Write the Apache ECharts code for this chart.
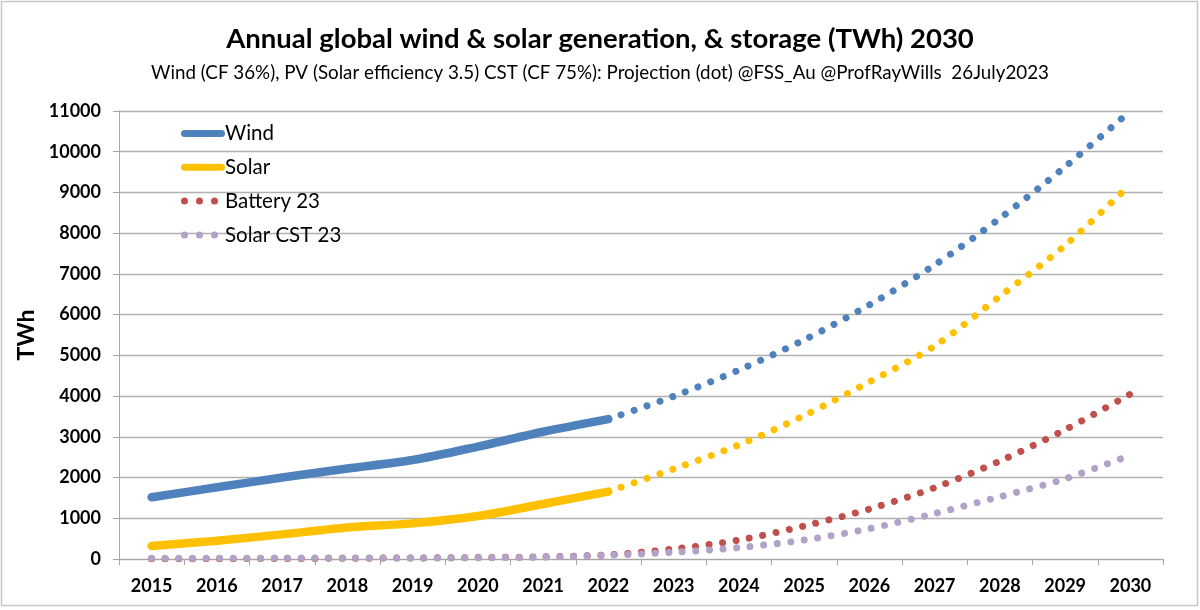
<!DOCTYPE html>
<html>
<head>
<meta charset="utf-8">
<script src="https://cdn.jsdelivr.net/npm/echarts@6/dist/echarts.min.js"></script>
<style>
    html, body { margin: 0; padding: 0; background: #fff; }
    #main { width: 1200px; height: 610px; }
</style>
</head>
<body>
<div id="main"></div>
<script>
// 数据 (TWh)
var years = ['2015', '2016', '2017', '2018', '2019', '2020', '2021', '2022',
             '2023', '2024', '2025', '2026', '2027', '2028', '2029', '2030'];
var yTicks = [0, 1000, 2000, 3000, 4000, 5000, 6000, 7000, 8000, 9000, 10000, 11000];

// actual 2015-2022
var windActual = [1515, 1760, 2000, 2220, 2430, 2760, 3125, 3435];
var solarActual = [320, 450, 605, 775, 875, 1055, 1350, 1655];
// projection 2022-2030
var windProjection = [3435, 3995, 4640, 5380, 6240, 7220, 8365, 9630, 11000];
var solarProjection = [1655, 2210, 2800, 3520, 4350, 5230, 6450, 7700, 9200];
// storage, 2015-2030
var battery = [5, 8, 12, 18, 25, 35, 55, 100, 245, 466, 810, 1227, 1750, 2406, 3175, 4050];
var solarCst = [20, 20, 22, 24, 26, 30, 45, 90, 165, 280, 465, 745, 1115, 1530, 1970, 2550];

var FONT = 'Lato, "Liberation Sans", sans-serif';

// put the projection values at the right years
function padFrom(startYear, values) {
    var out = years.map(function () { return null; });
    var i0 = years.indexOf(startYear);
    values.forEach(function (v, i) { out[i0 + i] = v; });
    return out;
}

// legend icons, all 44 x 7 so they scale the same
var barIcon = 'path://M3.5,0 L40.5,0 A3.5,3.5 0 0 1 40.5,7 L3.5,7 A3.5,3.5 0 0 1 3.5,0 Z';
var dotIcon = 'path://M0,3.5 A3.5,3.5 0 1 0 7,3.5 A3.5,3.5 0 1 0 0,3.5 Z ' +
    'M15,3.5 A3.5,3.5 0 1 0 22,3.5 A3.5,3.5 0 1 0 15,3.5 Z ' +
    'M30,3.5 A3.5,3.5 0 1 0 37,3.5 A3.5,3.5 0 1 0 30,3.5 Z ' +
    'M43.98,3.5 A0.01,0.01 0 1 0 44,3.5 A0.01,0.01 0 1 0 43.98,3.5 Z';

var dots = [0.01, 13.6];

function dotted(name, color, data) {
    return {
        name: name,
        type: 'line',
        data: data,
        smooth: 0.3,
        symbol: 'none',
        silent: true,
        lineStyle: { color: color, width: 7, type: dots, cap: 'round' },
        itemStyle: { color: color },
        z: 2
    };
}

var chart = echarts.init(document.getElementById('main'));

chart.setOption({
    animation: false,
    backgroundColor: '#fff',
    title: [
        {
            text: 'Annual global wind & solar generation, & storage (TWh) 2030',
            left: 'center',
            top: 20,
            textStyle: { fontFamily: FONT, fontSize: 27.5, fontWeight: 'bold', color: '#000' }
        },
        {
            text: 'Wind (CF 36%), PV (Solar efficiency 3.5) CST (CF 75%): Projection (dot) @FSS_Au @ProfRayWills  26July2023',
            left: 'center',
            top: 58,
            textStyle: { fontFamily: FONT, fontSize: 18.8, fontWeight: 'normal', color: '#000' }
        }
    ],
    legend: {
        orient: 'vertical',
        left: 176,
        top: 118,
        itemWidth: 44,
        itemHeight: 7,
        itemGap: 12.8,
        data: [
            { name: 'Wind', icon: barIcon },
            { name: 'Solar', icon: barIcon },
            { name: 'Battery 23', icon: dotIcon },
            { name: 'Solar CST 23', icon: dotIcon }
        ],
        textStyle: { fontFamily: FONT, fontSize: 20.5, color: '#000', padding: [0, 0, 0, -5] }
    },
    grid: { left: 119, right: 37, top: 111, bottom: 51 },
    xAxis: {
        type: 'category',
        data: years,
        boundaryGap: true,
        axisLine: { lineStyle: { color: '#a6a6a6', width: 1 } },
        axisTick: { show: true, length: 6, lineStyle: { color: '#a6a6a6' } },
        axisLabel: { fontFamily: FONT, fontSize: 18, fontWeight: 'bold', color: '#000', margin: 18 }
    },
    yAxis: {
        type: 'value',
        min: yTicks[0],
        max: yTicks[yTicks.length - 1],
        interval: 1000,
        name: 'TWh',
        nameLocation: 'middle',
        nameGap: 72,
        nameTextStyle: { fontFamily: FONT, fontSize: 23, fontWeight: 'bold', color: '#000' },
        axisLine: { show: true, lineStyle: { color: '#a6a6a6', width: 1 } },
        axisTick: { show: true, length: 6, lineStyle: { color: '#a6a6a6' } },
        splitLine: { lineStyle: { color: '#b0b0b0', width: 1.3 } },
        axisLabel: {
            fontFamily: FONT, fontSize: 18, fontWeight: 'bold', color: '#000', margin: 18,
            formatter: function (v) { return String(v); }
        }
    },
    series: [
        {
            name: 'Wind',
            type: 'line',
            data: windActual,
            smooth: 0.3,
            symbol: 'none',
            lineStyle: { color: '#4f81bd', width: 8.5, cap: 'round' },
            itemStyle: { color: '#4f81bd' },
            z: 4
        },
        {
            name: 'Solar',
            type: 'line',
            data: solarActual,
            smooth: 0.3,
            symbol: 'none',
            lineStyle: { color: '#ffc000', width: 8.5, cap: 'round' },
            itemStyle: { color: '#ffc000' },
            z: 4
        },
        dotted('Battery 23', '#c0504d', battery),
        dotted('Solar CST 23', '#b3a2c7', solarCst),
        dotted('Wind projection', '#4f81bd', padFrom('2022', windProjection)),
        dotted('Solar projection', '#ffc000', padFrom('2022', solarProjection))
    ],
    graphic: [
        {
            type: 'rect',
            shape: { x: 1.5, y: 1.5, width: 1196, height: 604 },
            style: { fill: null, stroke: '#c8c8c8', lineWidth: 1.5 },
            silent: true
        }
    ]
});
</script>
</body>
</html>
